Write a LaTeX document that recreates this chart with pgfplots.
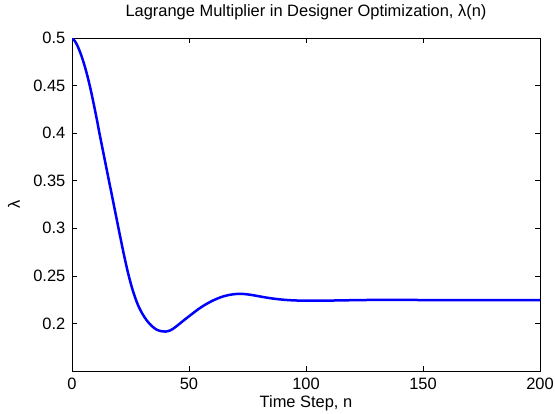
\documentclass[border=0pt]{standalone}
\usepackage{fontspec}
\setmainfont{Liberation Sans}
\usepackage{pgfplots}
\pgfplotsset{compat=1.18}
\begin{document}
\fontsize{16.5}{20}\selectfont
\begin{tikzpicture}
\useasboundingbox (-72bp,-43bp) rectangle (483bp,371bp);
\begin{axis}[
  at={(0,0)}, anchor=south west,
  scale only axis, width=468bp, height=333bp,
  xmin=0, xmax=200, ymin=0.15, ymax=0.5,
  xtick={0,50,100,150,200},
  ytick={0.2,0.25,0.3,0.35,0.4,0.45,0.5},
  yticklabels={0.2,0.25,0.3,0.35,0.4,0.45,0.5},
  /pgf/number format/assume math mode=true,
  tick align=inside, major tick length=5bp,
  tick style={black, line width=0.5bp},
  axis line style={black, line width=0.8bp},
  title={Lagrange Multiplier in Designer Optimization, λ(n)},
  every axis title/.style={at={(axis description cs:0.5,1)}, anchor=center, yshift=26bp},
  xlabel={Time Step, n},
  every axis x label/.style={at={(axis description cs:0.5,0)}, anchor=center, yshift=-32bp},
  ylabel={λ},
  every axis y label/.style={at={(axis description cs:0,0.5)}, anchor=center, rotate=90, yshift=58bp},
  xticklabel style={yshift=-1bp},
  yticklabel style={xshift=-1bp},
]
\addplot[color={rgb,1:red,0;green,0;blue,1}, line width=2.5bp, smooth] coordinates {
(0,0.5000) (1,0.4975) (2,0.4935) (3,0.4880) (4,0.4815) (5,0.4740) (6,0.4655)
(7,0.4560) (8,0.4455) (9,0.4340) (10,0.4220) (11,0.4095) (12,0.3965)
(14,0.3720) (16,0.3475) (18,0.3230) (20,0.2985) (22,0.2745) (24,0.2525)
(26,0.2345) (28,0.2205) (30,0.2105) (32,0.2030) (34,0.1975) (36,0.1937)
(38,0.1919) (40,0.1915) (42,0.1927) (44,0.1958) (46,0.1997) (48,0.2037)
(50,0.2075) (52,0.2113) (54,0.2150) (56,0.2183) (58,0.2212) (60,0.2238)
(62,0.2260) (64,0.2279) (66,0.2293) (68,0.2303) (70,0.2309) (72,0.2311)
(74,0.2308) (76,0.2302) (78,0.2294) (80,0.2285) (82,0.2276) (84,0.2268)
(86,0.2261) (88,0.2255) (90,0.2250) (92,0.2246) (94,0.2243) (96,0.2241)
(98,0.2240) (100,0.2239) (104,0.2239) (108,0.2240) (112,0.2241) (116,0.2243)
(120,0.2244) (125,0.2246) (130,0.2247) (140,0.2247) (150,0.2246) (160,0.2245)
(180,0.2245) (200,0.2245)
};
\end{axis}
\end{tikzpicture}
\end{document}
